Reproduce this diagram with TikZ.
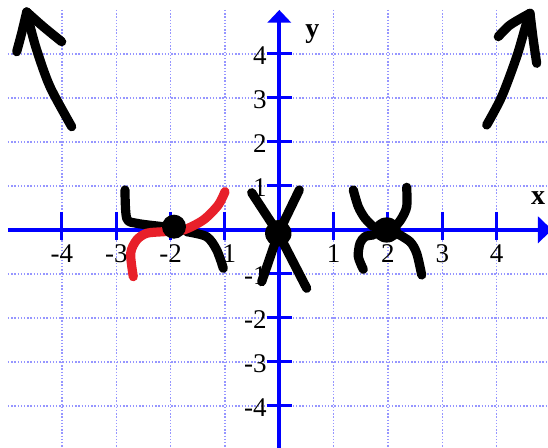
\documentclass[tikz,border=0pt]{standalone}
\usepackage{fontspec}
\setmainfont{Liberation Serif}
\definecolor{gridblue}{RGB}{150,150,255}
\definecolor{penred}{RGB}{232,32,42}
\begin{document}
\begin{tikzpicture}[x=0.5pt,y=-0.5pt,
  gridline/.style={draw=gridblue, line width=0.75pt, dash pattern=on 0.75pt off 0.85pt},
  axisline/.style={draw=blue, line width=2pt},
  tickline/.style={draw=blue, line width=1.5pt},
  ink/.style={draw=black, line width=4.6pt, line cap=round, line join=round},
  redink/.style={draw=penred, line width=4.6pt, line cap=round, line join=round},
  lbl/.style={font=\fontsize{13.5}{15}\selectfont, inner sep=0pt},
  axlbl/.style={font=\fontsize{14}{16}\selectfont\bfseries, inner sep=0pt}
]
\useasboundingbox (0,0) rectangle (548,448);
\fill[white] (0,0) rectangle (548,448);
% grid
\foreach \k in {-4,...,4} {
  \pgfmathsetmacro\xx{279.3+54.34*\k}
  \pgfmathsetmacro\yy{229.8-44*\k}
  \draw[gridline] (\xx,10) -- (\xx,448);
  \draw[gridline] (8,\yy) -- (548,\yy);
}
% axes
\draw[axisline] (8,229.8) -- (540,229.8);
\fill[blue] (538,216.3) -- (552,229.8) -- (538,243.3) -- cycle;
\draw[axisline] (279.3,448) -- (279.3,20);
\fill[blue] (267.3,22.7) -- (279.3,10) -- (291.3,22.7) -- cycle;
% ticks and labels
\foreach \k/\n in {-4/a,-3/b,-2/c,-1/d,1/e,2/f,3/g,4/h} {
  \pgfmathsetmacro\xx{279.3+54.34*\k}
  \pgfmathsetmacro\yy{229.8-44*\k}
  \pgfmathsetmacro\yb{\yy+10.5}
  \draw[tickline] (\xx,212) -- (\xx,240);
  \draw[tickline] (266.7,\yy) -- (291.7,\yy);
  \node[lbl, anchor=base] (lx\n) at (\xx,263) {\k};
  \node[lbl, anchor=base east] (ly\n) at (267,\yb) {\k};
}
\node[axlbl, anchor=base] (xlabel) at (538,205) {x};
\node[axlbl, anchor=base] (ylabel) at (312.5,37.5) {y};
% top-left arrow
\draw[ink] plot[smooth] coordinates {(71.7,126.7) (50,86.7) (36.7,50) (29,22) (26.7,12)};
\draw[ink] plot[smooth] coordinates {(26.7,12) (21.7,33) (16.7,51.7)};
\draw[ink] plot[smooth] coordinates {(26.7,12) (43.3,26.7) (61.7,41.7)};
% top-right arrow
\draw[ink] plot[smooth] coordinates {(486.7,125) (501.7,96.7) (516.7,56.7) (526,25) (530,13.3)};
\draw[ink] plot[smooth] coordinates {(530,13.3) (510,25) (498.3,36.7)};
\draw[ink] plot[smooth] coordinates {(530,13.3) (533.3,40) (536.7,63.3)};
% spider at -2
\draw[ink] plot[smooth] coordinates {(125,190) (126.7,218.3) (136.7,223.3) (163.3,226.7)};
\draw[ink] plot[smooth] coordinates {(186.7,231.7) (206.7,236.7) (216.7,250) (223.3,268.3)};
\draw[redink] plot[smooth] coordinates {(133.3,276.7) (130.7,253.3) (136.7,240) (146.7,233.3) (163.3,231.7) (183.3,230) (203.3,220) (218.3,205) (225,191.7)};
\fill[black] (174,226.7) circle[radius=6pt];
% spider at 0
\draw[ink] (251.7,192.7) -- (278.3,233.3) -- (306.7,288.3);
\draw[ink] (299.3,190) -- (278.3,233.3) -- (261.7,281.7);
\fill[black] (278.3,233.3) circle[radius=6.6pt];
% spider at 2
\draw[ink] plot[smooth] coordinates {(353.3,190) (358.3,206.7) (365,218.3) (373.3,226.7)};
\draw[ink] plot[smooth] coordinates {(406.7,187.3) (406.7,206.7) (401.7,218.3) (396.7,225)};
\draw[ink] plot[smooth] coordinates {(373.3,235) (365,236.7) (360,243.3) (358.3,256.7) (363.3,269.3)};
\draw[ink] plot[smooth] coordinates {(396.7,233.3) (410,241.7) (416.7,253.3) (421.7,275)};
\fill[black] (386.7,230) ellipse[x radius=7pt, y radius=6.3pt];
\end{tikzpicture}
\end{document}
